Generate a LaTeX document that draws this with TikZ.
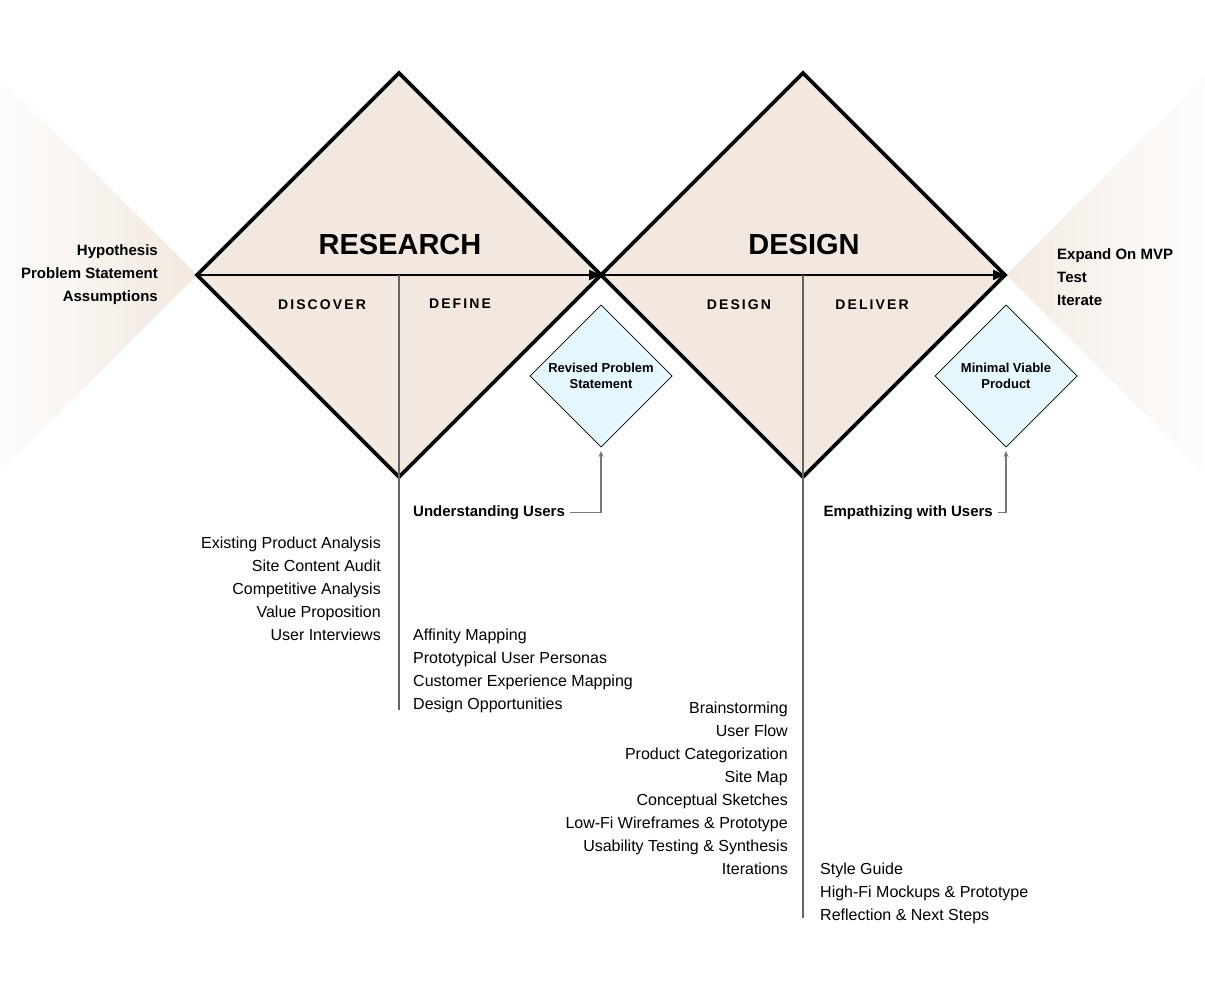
\documentclass[tikz,border=0pt]{standalone}
\usepackage{fontspec}
\setmainfont{Liberation Sans}
\newfontfamily\spacedfont[LetterSpace=15]{Liberation Sans}
\usetikzlibrary{arrows.meta,shapes.geometric,positioning}
\definecolor{sand}{RGB}{242,232,223}
\definecolor{ice}{RGB}{230,246,253}
\definecolor{stemgray}{RGB}{100,100,100}
\definecolor{leadgray}{RGB}{120,120,120}
\tikzset{
  phase/.style={diamond,aspect=1,draw=black,line width=3.8pt,fill=sand,
    minimum width=404pt,minimum height=404pt,inner sep=0pt,outer sep=0pt},
  outcome/.style={diamond,aspect=1,draw=black,line width=0.7pt,fill=ice,
    minimum width=142pt,minimum height=142pt,inner sep=0pt,outer sep=0pt,
    align=center,font=\bfseries\fontsize{13}{16}\selectfont},
  flow/.style={line width=2pt,-{Triangle[length=12pt,width=10pt]}},
  stem/.style={stemgray,line width=1.5pt},
  leader/.style={leadgray,line width=1.3pt,-{Stealth[length=6pt,width=5pt]},
    shorten <=5pt,shorten >=4pt},
  title/.style={inner sep=0pt,font=\bfseries\fontsize{29}{35}\selectfont},
  stage/.style={inner sep=0pt,font=\spacedfont\bfseries\fontsize{14}{17}\selectfont},
  lead/.style={inner sep=0pt,font=\bfseries\fontsize{15}{23}\selectfont},
  items/.style={inner sep=0pt,font=\fontsize{16}{23}\selectfont},
  boldlist/.style={inner sep=0pt,font=\bfseries\fontsize{15}{23}\selectfont},
}
\begin{document}
\begin{tikzpicture}[x=1pt,y=-1pt]
\useasboundingbox (0,0) rectangle (1205,1000);
% fading wedges at both ends
\shade[left color=sand!12,right color=sand] (0,78) -- (197,275) -- (0,472) -- cycle;
\shade[left color=sand!85,right color=sand!10] (1205,76) -- (1006,275) -- (1205,474) -- cycle;
% the two diamonds
\node[phase] (research) at (399,275) {};
\node[phase] (design) at (803,275) {};
\draw[flow] (research.west) -- (research.east);
\draw[flow] (design.west) -- (design.east);
\coordinate (researchfoot) at (399,710);
\coordinate (designfoot) at (803,918);
\draw[stem] (research.center) -- (researchfoot);
\draw[stem] (design.center) -- (designfoot);
\node[title] (researchtitle) at (400,245) {RESEARCH};
\node[title] (designtitle) at (804,245) {DESIGN};
\node[stage] (discover) at (322,305) {DISCOVER};
\node[stage] (define) at (460,304) {DEFINE};
\node[stage] (designstage) at (739,305) {DESIGN};
\node[stage] (deliver) at (872,305) {DELIVER};
% outcomes
\node[outcome] (revised) at (601,376) {Revised Problem\\Statement};
\node[outcome] (mvp) at (1006,376) {Minimal Viable\\Product};
\node[lead,anchor=base west] (understanding) at (413,516) {Understanding Users};
\node[lead,anchor=base east] (empathizing) at (993,516) {Empathizing with Users};
\draw[leader] (understanding.east) -| (revised.south);
\draw[leader] (empathizing.east) -| (mvp.south);
% start and end notes
\node[boldlist,anchor=north east,align=right] (intro) at (158,244.6)
  {Hypothesis\\Problem Statement\\Assumptions};
\node[boldlist,anchor=north west,align=left] (outro) at (1057,248.6)
  {Expand On MVP\\Test\\Iterate};
% activity lists
\node[items,anchor=north east,align=right] (discoverlist) at (381,536.3)
  {Existing Product Analysis\\Site Content Audit\\Competitive Analysis\\
   Value Proposition\\User Interviews};
\node[items,anchor=north west,align=left] (definelist) at (413,628.3)
  {Affinity Mapping\\Prototypical User Personas\\Customer Experience Mapping\\
   Design Opportunities};
\node[items,anchor=north east,align=right] (designlist) at (788,701.3)
  {Brainstorming\\User Flow\\Product Categorization\\Site Map\\
   Conceptual Sketches\\Low-Fi Wireframes \& Prototype\\
   Usability Testing \& Synthesis\\Iterations};
\node[items,anchor=north west,align=left] (deliverlist) at (820,862.3)
  {Style Guide\\High-Fi Mockups \& Prototype\\Reflection \& Next Steps};
\end{tikzpicture}
\end{document}
